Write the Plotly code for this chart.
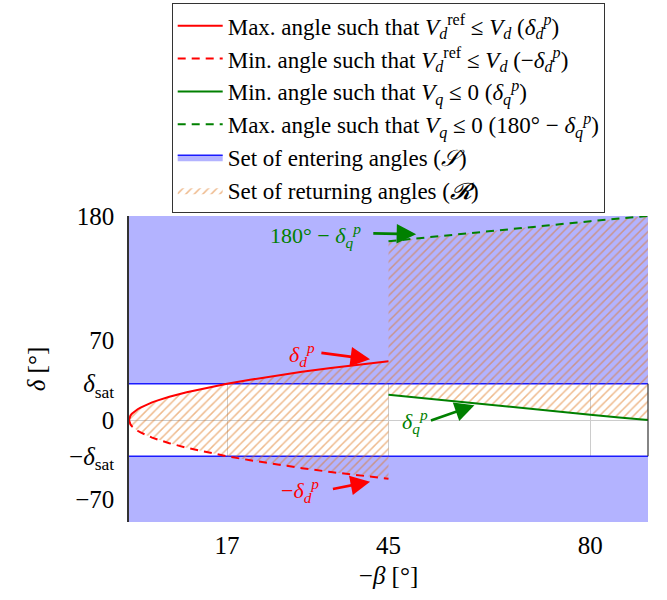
import numpy as np
import plotly.graph_objects as go

# Axis limits (degrees)
X_MIN, X_MAX = 0, 90
Y_MIN, Y_MAX = -90, 180
DELTA_SAT = 32  # saturation angle

# Boundary delta_d^p as a function of -beta
beta_d = [0, 0.25, 0.5, 1, 1.5, 2, 3, 4, 5, 7, 10, 13, 17, 21, 25, 30, 35, 40, 45]
delta_d = [0, 3.9, 5.5, 7.8, 9.5, 11.0, 13.4, 15.5, 17.3, 20.5, 24.5, 28.0, 32.0,
           35.5, 38.8, 42.5, 45.9, 49.0, 51.8]

# Boundary delta_q^p as a function of -beta
beta_q = [45, 50, 55, 60, 65, 70, 75, 80, 85, 90]
delta_q = [22.3, 19.7, 17.1, 14.6, 12.1, 9.6, 7.1, 4.6, 2.3, 0]

x_ticks = [17, 45, 80]
y_ticks = [-70, -DELTA_SAT, 0, DELTA_SAT, 70, 180]
y_ticktext = ["\u221270", "\u2212<i>\u03b4</i><sub>sat</sub>", "0",
              "<i>\u03b4</i><sub>sat</sub>", "70", "180"]

RED = "#ff0000"
GREEN = "#008000"
BLUE_FILL = "#b3b3ff"
BLUE_EDGE = "#1a1aff"
HATCH = "rgb(222,118,28)"
FONT = "Liberation Serif"

bd = np.array(beta_d, float)
dd = np.array(delta_d, float)
bq = np.array(beta_q, float)
dq = np.array(delta_q, float)

fig = go.Figure()

# Set of entering angles: everything outside |delta| <= delta_sat
pad = 10
sx = [X_MIN - pad, X_MAX + pad, X_MAX + pad, X_MIN - pad, X_MIN - pad, None,
      X_MIN - pad, X_MAX + pad, X_MAX + pad, X_MIN - pad, X_MIN - pad]
sy = [DELTA_SAT, DELTA_SAT, Y_MAX + pad, Y_MAX + pad, DELTA_SAT, None,
      -DELTA_SAT, -DELTA_SAT, Y_MIN - pad, Y_MIN - pad, -DELTA_SAT]
fig.add_trace(go.Scatter(
    x=sx, y=sy, mode="lines", fill="toself", fillcolor=BLUE_FILL,
    line=dict(color=BLUE_EDGE, width=1.3),
    name="Set of entering angles (<i>\U0001d4ae</i>)", legendrank=5,
    hoverinfo="skip"))

# Set of returning angles: between the d-boundaries, then between the q-boundaries
rx = list(bd) + list(bd[::-1]) + [None] + list(bq) + list(bq[::-1])
ry = list(dd) + list(-dd[::-1]) + [None] + list(dq) + list((180 - dq)[::-1])
fig.add_trace(go.Scatter(
    x=rx, y=ry, mode="lines", fill="toself", fillcolor="rgba(0,0,0,0)",
    fillpattern=dict(shape="/", fgcolor=HATCH, bgcolor="rgba(0,0,0,0)",
                     size=6, solidity=0.25),
    line=dict(width=0, color="#555555"),
    name="Set of returning angles (<i>\U0001d4e1</i>)", legendrank=6,
    hoverinfo="skip"))

fig.add_trace(go.Scatter(
    x=bd, y=dd, mode="lines", line=dict(color=RED, width=2),
    name="Max. angle such that <i>V</i><sub><i>d</i></sub><sup>ref</sup> \u2264 "
         "<i>V</i><sub><i>d</i></sub> (<i>\u03b4</i><sub><i>d</i></sub><sup><i>p</i></sup>)",
    legendrank=1))
fig.add_trace(go.Scatter(
    x=bd, y=-dd, mode="lines", line=dict(color=RED, width=2, dash="8px,6px"),
    name="Min. angle such that <i>V</i><sub><i>d</i></sub><sup>ref</sup> \u2264 "
         "<i>V</i><sub><i>d</i></sub> (\u2212<i>\u03b4</i><sub><i>d</i></sub><sup><i>p</i></sup>)",
    legendrank=2))
fig.add_trace(go.Scatter(
    x=bq, y=dq, mode="lines", line=dict(color=GREEN, width=2),
    name="Min. angle such that <i>V</i><sub><i>q</i></sub> \u2264 0 "
         "(<i>\u03b4</i><sub><i>q</i></sub><sup><i>p</i></sup>)",
    legendrank=3))
fig.add_trace(go.Scatter(
    x=bq, y=180 - dq, mode="lines", line=dict(color=GREEN, width=2, dash="8px,6px"),
    name="Max. angle such that <i>V</i><sub><i>q</i></sub> \u2264 0 "
         "(180\u00b0 \u2212 <i>\u03b4</i><sub><i>q</i></sub><sup><i>p</i></sup>)",
    legendrank=4))

# Labels with arrows pointing at the boundaries
labels = [
    dict(text="<i>\u03b4</i><sub><i>d</i></sub><sup><i>p</i></sup>", x=30.0, y=58.2,
         color=RED, tail=(33.1, 59.4), tip=(41.8, 53.6)),
    dict(text="\u2212<i>\u03b4</i><sub><i>d</i></sub><sup><i>p</i></sup>", x=29.6, y=-62.6,
         color=RED, tail=(35.1, -61.1), tip=(41.8, -54.4)),
    dict(text="180\u00b0 \u2212 <i>\u03b4</i><sub><i>q</i></sub><sup><i>p</i></sup>", x=32.3, y=163.2,
         color=GREEN, tail=(42.1, 164.7), tip=(49.8, 163.9)),
    dict(text="<i>\u03b4</i><sub><i>q</i></sub><sup><i>p</i></sup>", x=49.6, y=-0.9,
         color=GREEN, tail=(52.1, -0.9), tip=(59.9, 13.0)),
]
for lb in labels:
    fig.add_annotation(x=lb["x"], y=lb["y"], xref="x", yref="y", text=lb["text"],
                       showarrow=False, font=dict(family=FONT, size=22, color=lb["color"]))
    fig.add_annotation(x=lb["tip"][0], y=lb["tip"][1], ax=lb["tail"][0], ay=lb["tail"][1],
                       xref="x", yref="y", axref="x", ayref="y", text="",
                       showarrow=True, arrowhead=2, arrowsize=1.5, arrowwidth=2.6,
                       arrowcolor=lb["color"])

# Right frame edge inside the unsaturated band
fig.add_shape(type="line", xref="paper", yref="y", x0=1, x1=1,
              y0=-DELTA_SAT, y1=DELTA_SAT, line=dict(color="#333333", width=1.2))

fig.update_layout(
    width=667, height=600,
    margin=dict(l=129, r=19, t=216, b=78, autoexpand=False),
    paper_bgcolor="white", plot_bgcolor="white",
    font=dict(family=FONT, size=25, color="black"),
    showlegend=True,
    legend=dict(x=0.5, xanchor="center", y=1.696, yanchor="top",
                bordercolor="#333333", borderwidth=1.2, bgcolor="white",
                font=dict(family=FONT, size=23), itemwidth=45,
                traceorder="normal", tracegroupgap=0),
)
fig.update_xaxes(range=[X_MIN, X_MAX], tickvals=x_ticks, ticks="",
                 showgrid=True, gridcolor="#cccccc", gridwidth=1, zeroline=False,
                 showline=False, ticklabelstandoff=6,
                 title=dict(text="\u2212<i>\u03b2</i> [\u00b0]", standoff=8,
                            font=dict(size=25)))
fig.update_yaxes(range=[Y_MIN, Y_MAX], tickvals=y_ticks, ticktext=y_ticktext, ticks="",
                 showgrid=True, gridcolor="#cccccc", gridwidth=1, zeroline=False,
                 showline=True, linecolor="#333333", linewidth=1.5, mirror=False,
                 ticklabelstandoff=8,
                 title=dict(text="<i>\u03b4</i> [\u00b0]", standoff=16,
                            font=dict(size=25)))

fig.write_html("out.html")
